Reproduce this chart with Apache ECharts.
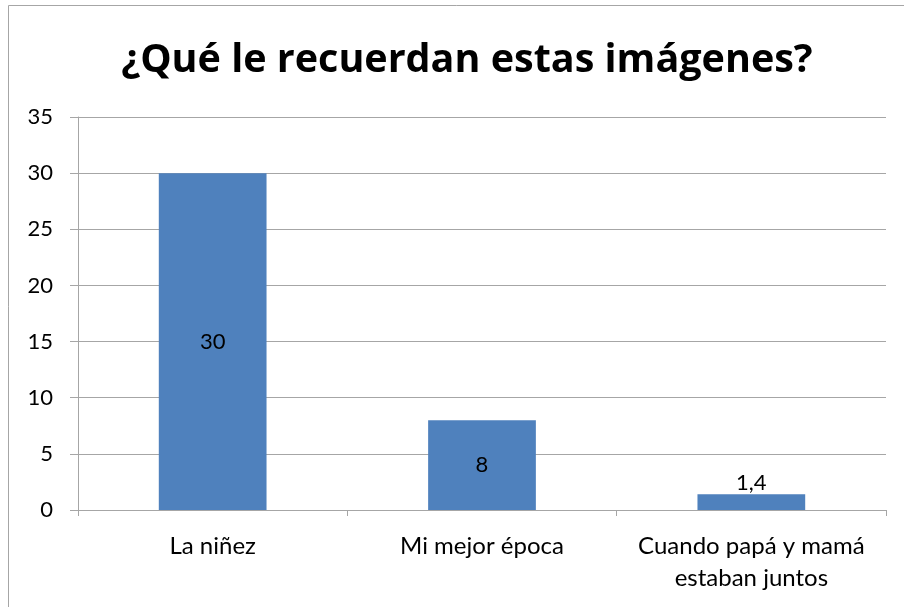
<!DOCTYPE html>
<html>
<head>
<meta charset="utf-8">
<script src="https://cdn.jsdelivr.net/npm/echarts@6/dist/echarts.min.js"></script>
<style>
  html, body { margin: 0; padding: 0; background: #fff; }
  #chart { width: 904px; height: 607px; }
</style>
</head>
<body>
<div id="chart"></div>
<script>
// Respuestas a la pregunta del gráfico
const chartTitle = '¿Qué le recuerdan estas imágenes?';
const categories = ['La niñez', 'Mi mejor época', 'Cuando papá y mamá estaban juntos'];
const values = [30, 8, 1.4];
const yMin = 0, yMax = 35, yStep = 5;

const FONT = 'Lato, "Open Sans", sans-serif';
const TITLE_FONT = '"Open Sans", Lato, sans-serif';
const GRID_COLOR = '#a6a6a6';

// Wrap a category name into lines of at most maxChars characters
function wrapWords(text, maxChars) {
  const words = text.split(' ');
  const lines = [];
  let cur = '';
  for (const w of words) {
    const next = cur ? cur + ' ' + w : w;
    if (next.length > maxChars && cur) {
      lines.push(cur);
      cur = w;
    } else {
      cur = next;
    }
  }
  if (cur) lines.push(cur);
  return lines.join('\n');
}

const chart = echarts.init(document.getElementById('chart'), null, { renderer: 'canvas' });

chart.setOption({
  animation: false,
  backgroundColor: '#ffffff',
  graphic: [{
    type: 'rect',
    shape: { x: 8.5, y: 5.5, width: 1000, height: 1000 },
    style: { fill: 'none', stroke: GRID_COLOR, lineWidth: 1 },
    silent: true
  }],
  title: {
    text: chartTitle,
    left: 462,
    top: 36,
    textAlign: 'center',
    textStyle: { fontFamily: TITLE_FONT, fontWeight: 'bold', fontSize: 39.5, color: '#000' }
  },
  grid: { left: 78, right: 18, top: 117, bottom: 97, containLabel: false },
  xAxis: {
    type: 'category',
    data: categories,
    axisLine: { show: true, lineStyle: { color: GRID_COLOR, width: 1 } },
    axisTick: { show: true, length: 6, interval: 0, alignWithLabel: false, lineStyle: { color: GRID_COLOR } },
    axisLabel: {
      interval: 0,
      margin: 20,
      color: '#000',
      fontFamily: FONT,
      fontSize: 24,
      lineHeight: 32,
      formatter: v => wrapWords(v, 20)
    }
  },
  yAxis: {
    type: 'value',
    min: yMin,
    max: yMax,
    interval: yStep,
    axisLine: { show: true, lineStyle: { color: GRID_COLOR, width: 1 } },
    axisTick: { show: true, length: 8, lineStyle: { color: GRID_COLOR } },
    splitLine: { show: true, lineStyle: { color: GRID_COLOR, width: 1 } },
    axisLabel: {
      margin: 25,
      color: '#000',
      fontFamily: FONT,
      fontSize: 22,
      formatter: v => String(v)
    }
  },
  series: [{
    type: 'bar',
    data: values.map(v => ({
      value: v,
      label: v < 3
        ? { position: 'top', distance: 0 }
        : { position: 'inside' }
    })),
    barCategoryGap: '60%',
    itemStyle: { color: '#4f81bd' },
    label: {
      show: true,
      color: '#000',
      fontFamily: FONT,
      fontSize: 22,
      formatter: p => String(p.value).replace('.', ',')
    }
  }]
});
</script>
</body>
</html>
